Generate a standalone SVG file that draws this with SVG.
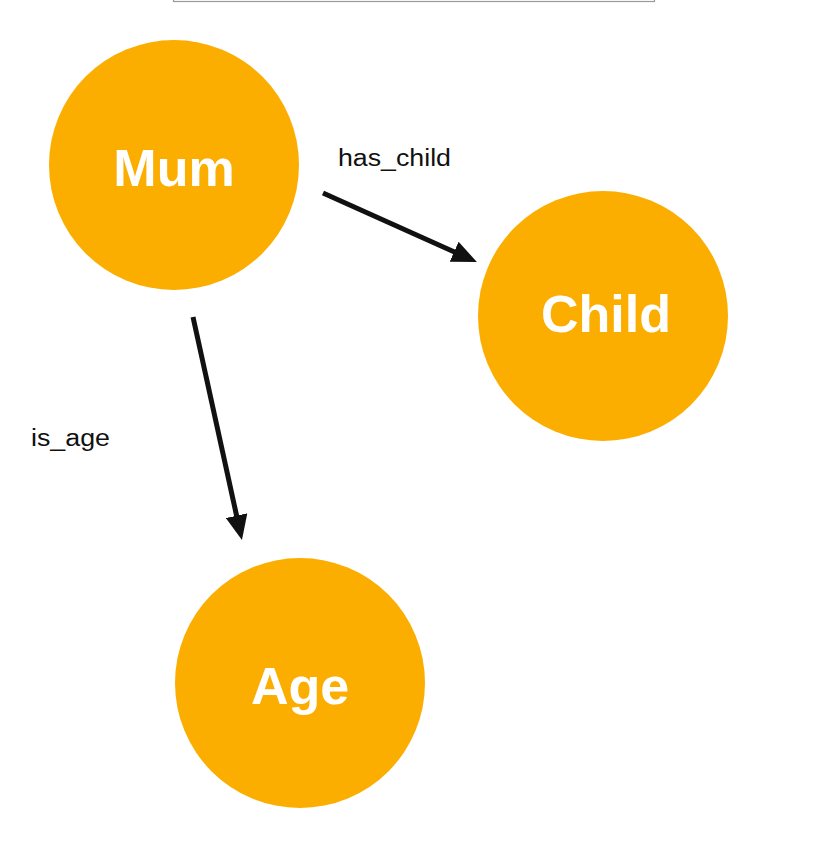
<svg xmlns="http://www.w3.org/2000/svg" width="836" height="858" viewBox="0 0 836 858">
  <style>
    .node { fill: #FCAE00; }
    .nlabel { font-family: "Liberation Sans", Arial, sans-serif; font-weight: bold; font-size: 52px; fill: #FFFFFF; text-anchor: middle; }
    .elabel { font-family: "Liberation Sans", Arial, sans-serif; font-size: 23px; fill: #111111; }
    .edge { stroke: #111111; stroke-width: 5; fill: none; }
  </style>
  <defs>
    <marker id="arrow" markerUnits="userSpaceOnUse" viewBox="0 -11 25 22" markerWidth="25" markerHeight="22" refX="1" refY="0" orient="auto">
      <path d="M0,-11 L25,0 L0,11 z" fill="#111111"/>
    </marker>
  </defs>
  <rect width="836" height="858" fill="#FFFFFF"/>
  <rect x="173.5" y="-20" width="481" height="21.5" fill="none" stroke="#999999" stroke-width="1.2"/>

  <g id="connectors">
    <g id="edge-has_child">
      <line class="edge" x1="323" y1="193" x2="455" y2="252.2" marker-end="url(#arrow)"/>
      <text class="elabel" x="338" y="166" textLength="113" lengthAdjust="spacingAndGlyphs">has_child</text>
    </g>
    <g id="edge-is_age">
      <line class="edge" x1="193" y1="317" x2="236.8" y2="516.6" marker-end="url(#arrow)"/>
      <text class="elabel" x="31" y="446" textLength="79" lengthAdjust="spacingAndGlyphs">is_age</text>
    </g>
  </g>

  <g id="node-mum">
    <circle class="node" cx="174" cy="165" r="125"/>
    <text class="nlabel" x="174" y="186" font-size="54">Mum</text>
  </g>
  <g id="node-child">
    <circle class="node" cx="603" cy="316" r="125"/>
    <text class="nlabel" x="606" y="332">Child</text>
  </g>
  <g id="node-age">
    <circle class="node" cx="300" cy="683" r="125"/>
    <text class="nlabel" x="300" y="704">Age</text>
  </g>
</svg>
